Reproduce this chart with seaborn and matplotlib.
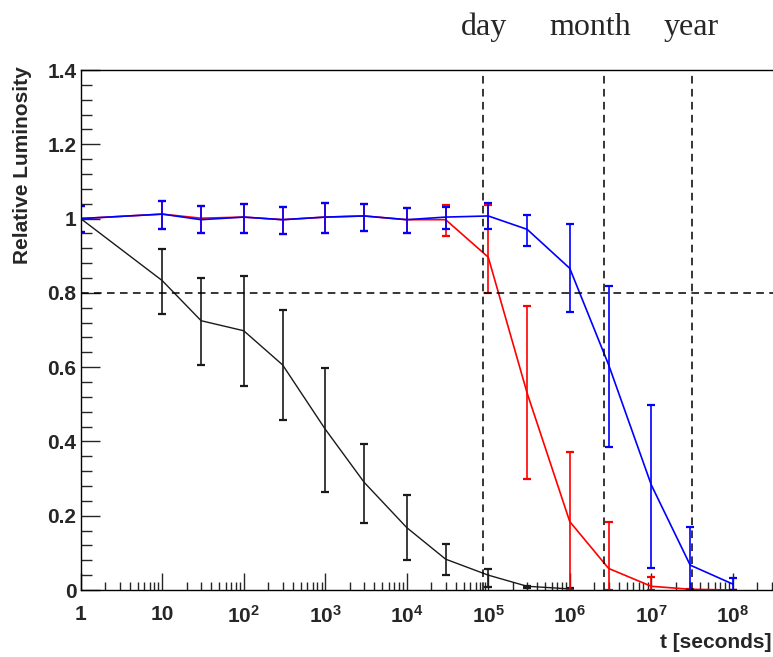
import numpy as np
import pandas as pd
import matplotlib
matplotlib.use("Agg")
import matplotlib.pyplot as plt
import matplotlib.ticker as mticker
import seaborn as sns

# Sampling times [s]
t = [1, 10, 30, 100, 300, 1e3, 3e3, 1e4, 3e4, 1e5, 3e5, 1e6, 3e6, 1e7, 3e7, 1e8]

# Black series (ends at 1e6 s)
lum_black = [1.0, 0.833, 0.725, 0.698, 0.606, 0.433, 0.290, 0.168, 0.083, 0.040, 0.010, 0.003]
lo_black = [1.0, 0.743, 0.606, 0.550, 0.458, 0.265, 0.181, 0.081, 0.040, 0.008, 0.005, 0.0]
hi_black = [1.0, 0.917, 0.839, 0.846, 0.753, 0.597, 0.393, 0.256, 0.125, 0.056, 0.012, 0.005]

# Red series
lum_red = [1.0, 1.012, 1.001, 1.004, 0.997, 1.004, 1.007, 0.997, 0.997, 0.896, 0.530, 0.184, 0.058, 0.010, 0.002, 0.0]
lo_red = [0.965, 0.972, 0.961, 0.962, 0.959, 0.960, 0.967, 0.962, 0.953, 0.800, 0.299, 0.0, 0.0, 0.0, 0.0, 0.0]
hi_red = [1.035, 1.047, 1.034, 1.040, 1.032, 1.041, 1.040, 1.029, 1.037, 1.037, 0.765, 0.372, 0.184, 0.036, 0.004, 0.0]

# Blue series
lum_blue = [1.0, 1.012, 0.997, 1.004, 0.997, 1.004, 1.007, 0.997, 1.004, 1.007, 0.971, 0.866, 0.606, 0.283, 0.067, 0.016]
lo_blue = [0.965, 0.972, 0.961, 0.962, 0.959, 0.960, 0.967, 0.962, 0.971, 0.971, 0.927, 0.749, 0.386, 0.058, 0.0, 0.0]
hi_blue = [1.035, 1.047, 1.034, 1.040, 1.032, 1.041, 1.040, 1.029, 1.032, 1.043, 1.010, 0.985, 0.818, 0.498, 0.170, 0.032]

# Reference time scales
marks = ["day", "month", "year"]
mark_t = [86400, 2.63e6, 3.156e7]

threshold = 0.8

sns.set_style("white")
plt.rcParams["font.family"] = ["Liberation Sans", "DejaVu Sans"]
plt.rcParams["mathtext.fontset"] = "custom"
plt.rcParams["mathtext.bf"] = "Liberation Sans:bold"
plt.rcParams["mathtext.rm"] = "Liberation Sans:bold"

W, H = 773, 657
fig = plt.figure(figsize=(W / 100, H / 100), dpi=100)
# frame runs past the right edge of the canvas
ax = fig.add_axes([80.7 / W, (H - 590) / H, 701 / W, 520 / H])
ax.set_xscale("log")

series = [
    ("black", "#1a1a1a", lum_black, lo_black, hi_black, 1.0),
    ("red", "#ff0000", lum_red, lo_red, hi_red, 1.2),
    ("blue", "#0000ff", lum_blue, lo_blue, hi_blue, 1.2),
]

frames = []
for name, col, y, lo, hi, lw in series:
    frames.append(pd.DataFrame({"t": t[:len(y)], "lum": y, "series": name}))
df = pd.concat(frames, ignore_index=True)

for name, col, y, lo, hi, lw in series:
    sub = df[df["series"] == name]
    sns.lineplot(data=sub, x="t", y="lum", color=col, lw=lw, ax=ax,
                 estimator=None, sort=True, legend=False)
    y_arr = np.array(y)
    err = [y_arr - np.array(lo), np.array(hi) - y_arr]
    ax.errorbar(t[:len(y)], y_arr, yerr=err, fmt="none", ecolor=col,
                elinewidth=1.2, capsize=3, capthick=1.6)

# Dashed guide lines
ax.axhline(threshold, color="black", ls=(0, (5, 3.5)), lw=1.1)
for mt in mark_t:
    ax.axvline(mt, color="black", ls=(0, (5, 3.5)), lw=1.1)

ax.set_xlim(1, 10 ** 8.6)
ax.set_ylim(0, 1.4)

# Axis ticks
decades = [10.0 ** k for k in range(9)]
ax.xaxis.set_major_locator(mticker.FixedLocator(decades))
xlabels = ["1", "10"] + [r"$\mathbf{10^{%d}}$" % k for k in range(2, 9)]
ax.xaxis.set_major_formatter(mticker.FixedFormatter(xlabels))
ax.xaxis.set_minor_locator(mticker.LogLocator(base=10, subs=np.arange(2, 10), numticks=20))
ax.xaxis.set_minor_formatter(mticker.NullFormatter())

ax.yaxis.set_major_locator(mticker.MultipleLocator(0.2))
ax.yaxis.set_minor_locator(mticker.MultipleLocator(0.04))
ax.yaxis.set_major_formatter(mticker.FuncFormatter(lambda v, p: "%g" % round(v, 2)))

ax.tick_params(axis="x", which="major", direction="in", length=12, width=1, pad=11,
               labelsize=15, bottom=True, top=False)
ax.tick_params(axis="x", which="minor", direction="in", length=5.5, width=1,
               bottom=True, top=False)
ax.tick_params(axis="y", which="major", direction="in", length=14, width=1, pad=3,
               labelsize=15, left=True, right=False)
ax.tick_params(axis="y", which="minor", direction="in", length=8, width=1,
               left=True, right=False)
for lab in ax.get_xticklabels() + ax.get_yticklabels():
    lab.set_fontweight("bold")

for sp in ax.spines.values():
    sp.set_color("black")
    sp.set_linewidth(1.0)

ax.set_xlabel("")
ax.set_ylabel("")

fig.text(23 / W, 1 - 66 / H, "Relative Luminosity", rotation=90,
         ha="center", va="top", fontsize=15, fontweight="bold")
fig.text(772 / W, 1 - 643 / H, "t [seconds]", ha="right", va="center",
         fontsize=15, fontweight="bold")

# Time-scale captions above the plot
caption_x = [483.5, 590, 691.5]
for label, cx in zip(marks, caption_x):
    fig.text(cx / W, 1 - 35 / H, label, ha="center", va="baseline",
             fontsize=23, family=["Liberation Serif", "DejaVu Serif"])

fig.savefig("out.png", dpi=100, facecolor="white")
